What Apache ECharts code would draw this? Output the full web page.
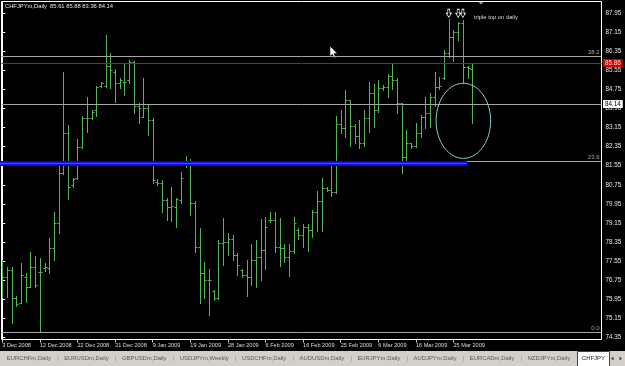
<!DOCTYPE html>
<html><head><meta charset="utf-8">
<script src="https://cdn.jsdelivr.net/npm/echarts@6/dist/echarts.min.js"></script>
<style>html,body{margin:0;padding:0;background:#000;overflow:hidden}#c{width:625px;height:366px}</style>
</head><body><div id="c"></div>
<script>
// ---- data (CHFJPYm, Daily) ----
const symbolName = 'CHFJPYm,Daily';
const dates = [
 '2008-12-03','2008-12-04','2008-12-05','2008-12-07','2008-12-08','2008-12-09','2008-12-10','2008-12-11','2008-12-12','2008-12-14',
 '2008-12-15','2008-12-16','2008-12-17','2008-12-18','2008-12-19','2008-12-21','2008-12-22','2008-12-23','2008-12-24','2008-12-25',
 '2008-12-26','2008-12-28','2008-12-29','2008-12-30','2008-12-31','2009-01-01','2009-01-02','2009-01-04','2009-01-05','2009-01-06',
 '2009-01-07','2009-01-08','2009-01-09','2009-01-11','2009-01-12','2009-01-13','2009-01-14','2009-01-15','2009-01-16','2009-01-18',
 '2009-01-19','2009-01-20','2009-01-21','2009-01-22','2009-01-23','2009-01-25','2009-01-26','2009-01-27','2009-01-28','2009-01-29',
 '2009-01-30','2009-02-01','2009-02-02','2009-02-03','2009-02-04','2009-02-05','2009-02-06','2009-02-08','2009-02-09','2009-02-10',
 '2009-02-11','2009-02-12','2009-02-13','2009-02-15','2009-02-16','2009-02-17','2009-02-18','2009-02-19','2009-02-20','2009-02-22',
 '2009-02-23','2009-02-24','2009-02-25','2009-02-26','2009-02-27','2009-03-01','2009-03-02','2009-03-03','2009-03-04','2009-03-05',
 '2009-03-06','2009-03-08','2009-03-09','2009-03-10','2009-03-11','2009-03-12','2009-03-13','2009-03-15','2009-03-16','2009-03-17',
 '2009-03-18','2009-03-19','2009-03-20','2009-03-22','2009-03-23','2009-03-24','2009-03-25','2009-03-26','2009-03-27','2009-03-29',
 '2009-03-30'];
const openP = [
 77.31,76.89,77.17,75.98,75.80,76.89,76.47,77.31,77.10,77.24,
 77.24,78.08,79.13,81.23,82.91,80.74,81.02,82.35,83.54,83.54,
 83.89,84.90,84.90,85.74,85.50,85.01,85.08,85.15,85.92,84.06,
 83.61,83.96,83.47,80.88,80.81,80.11,79.83,79.83,80.11,81.58,
 81.65,79.97,78.15,77.03,76.75,76.31,75.98,78.32,78.36,78.46,
 77.80,77.17,76.96,76.89,77.59,77.73,78.01,79.27,79.27,78.15,
 78.08,77.73,77.99,78.85,78.64,78.99,78.85,79.62,80.08,80.60,
 80.53,80.46,83.30,83.12,84.31,83.22,82.80,82.49,83.54,84.59,
 83.89,84.80,84.84,85.32,85.15,84.17,81.93,82.49,82.39,82.91,
 83.61,83.75,84.45,84.87,85.22,86.27,86.97,87.18,87.53,85.71,
 85.61];
const highP = [
 77.59,77.31,77.31,76.08,77.45,77.06,77.92,77.76,77.66,77.45,
 78.50,79.62,81.68,85.50,83.26,81.02,82.66,83.64,84.42,83.89,
 84.90,85.08,87.04,86.27,85.61,85.22,85.85,85.99,85.96,84.17,
 85.22,84.10,83.54,80.98,80.95,80.18,80.67,80.18,81.30,81.96,
 81.82,80.08,78.92,77.52,77.20,76.33,78.43,79.34,78.71,78.64,
 77.87,77.20,77.59,78.27,78.43,79.30,79.41,79.62,79.62,79.34,
 78.27,78.27,79.41,78.92,79.11,79.11,79.69,80.50,81.02,80.67,
 81.74,83.64,83.89,84.73,84.31,83.30,83.47,83.89,85.07,84.98,
 85.15,84.94,85.40,85.85,85.22,84.17,83.05,82.52,83.33,83.68,
 84.45,84.59,85.50,85.29,86.41,87.70,87.25,87.60,87.67,85.74,
 85.88];
const lowP = [
 76.05,76.05,74.96,75.66,75.77,75.84,76.45,76.47,74.59,77.15,
 77.03,77.59,78.71,81.20,80.14,80.64,80.99,82.28,82.98,83.50,
 83.64,84.84,84.84,84.80,84.21,84.80,84.52,85.04,83.75,83.33,
 83.58,82.84,80.81,80.74,79.62,79.27,79.25,78.97,79.97,81.51,
 79.48,77.92,75.80,75.98,75.28,75.91,75.96,77.38,77.80,77.59,
 76.96,76.89,76.08,76.54,76.45,76.75,77.20,79.20,77.92,77.34,
 77.52,76.92,77.87,78.46,78.15,77.99,78.57,78.83,78.83,80.50,
 80.28,80.42,82.91,82.77,82.38,82.52,82.31,82.38,82.98,83.19,
 83.82,84.73,84.42,84.76,83.75,81.26,81.76,82.28,82.35,82.77,
 83.12,83.19,84.06,84.76,85.18,86.13,85.96,86.83,85.04,85.22,
 83.36];
const closeP = [
 76.89,77.17,75.98,75.75,76.96,76.47,77.31,76.54,77.10,77.31,
 78.08,79.13,81.23,82.91,80.67,80.99,82.35,83.54,83.54,83.82,
 84.84,85.01,85.74,85.57,85.01,85.15,85.08,85.92,84.06,83.96,
 83.96,83.47,80.95,80.81,80.11,79.83,79.86,80.14,81.02,81.65,
 79.97,78.15,77.03,76.75,76.75,75.98,78.32,78.36,78.46,77.80,
 77.38,76.96,76.89,77.59,77.73,78.01,78.99,79.27,78.15,78.08,
 77.73,77.99,79.13,78.64,78.99,78.85,79.62,80.08,80.60,80.53,
 80.46,83.30,83.12,84.31,83.22,82.80,82.49,83.54,84.59,83.89,
 84.80,84.84,85.32,85.15,84.17,81.93,82.49,82.39,82.91,83.61,
 83.75,84.45,84.87,84.90,86.27,86.97,87.18,87.53,85.71,85.64,
 84.14];
const xTickIdx = [0,8,16,24,32,40,48,56,64,72,80,88,96];
const xTickLabels = ['3 Dec 2008','12 Dec 2008','22 Dec 2008','31 Dec 2008','9 Jan 2009','19 Jan 2009','28 Jan 2009','6 Feb 2009','16 Feb 2009','25 Feb 2009','6 Mar 2009','16 Mar 2009','25 Mar 2009'];
const yTicks = [74.35,75.15,75.95,76.75,77.55,78.35,79.15,79.95,80.75,81.55,82.35,83.15,83.95,84.75,85.55,86.35,87.15,87.95];
const fibLevels = [86.13, 81.72, 74.57];
const fibNames = ['38.2', '23.6', '0.0'];
const resistanceLevel = 85.86;
const bidLevel = 84.14;
const supportLevel = 81.64;
const supportSpan = [-1, 98.9];           // bar-index span of the blue trend line
const topArrowIdx = [95, 97, 98];          // bars marked as "triple top"
const topArrowPrice = 87.95;
const ellipseBox = [92.3, 85.01, 103.9, 81.86]; // [idxA, priceA, idxB, priceB]
const noteText = 'triple top on daily';
const tabNames = ['EURCHFm,Daily','EURUSDm,Daily','GBPUSDm,Daily','USDJPYm,Weekly','USDCHFm,Daily','AUDUSDm,Daily','EURJPYm,Daily','AUDJPYm,Daily','EURCADm,Daily','NZDJPYm,Daily'];

// ---- drawing ----
const BAR = '#56b456';
const FONT = 'Liberation Sans';
const chart = echarts.init(document.getElementById('c'), null, {renderer:'canvas', width:625, height:366});

function renderOHLC(params, api){
  const i = api.value(0);
  const pO = api.coord([i, api.value(1)]);
  const pH = api.coord([i, api.value(2)]);
  const pL = api.coord([i, api.value(3)]);
  const pC = api.coord([i, api.value(4)]);
  const x = Math.round(pH[0]) + 0.5;
  const yo = Math.round(pO[1]) + 0.5, yc = Math.round(pC[1]) + 0.5;
  const st = {stroke: BAR, lineWidth: 1};
  return {type:'group', children:[
    {type:'line', shape:{x1:x, y1:Math.round(pH[1]), x2:x, y2:Math.round(pL[1])+1}, style:st},
    {type:'line', shape:{x1:x-2, y1:yo, x2:x, y2:yo}, style:st},
    {type:'line', shape:{x1:x, y1:yc, x2:x+2, y2:yc}, style:st}
  ]};
}
function renderEllipse(params, api){
  const a = api.coord([api.value(0), api.value(1)]);
  const b = api.coord([api.value(2), api.value(3)]);
  const cx = (a[0]+b[0])/2, cy = (a[1]+b[1])/2;
  const rx = Math.abs(b[0]-a[0])/2, ry = Math.abs(b[1]-a[1])/2;
  const pts = [];
  for (let k = 0; k < 96; k++) { const t = k/96*Math.PI*2; pts.push([cx+rx*Math.cos(t), cy+ry*Math.sin(t)]); }
  return {type:'polygon', shape:{points:pts}, style:{fill:'none', stroke:'#8fd0d0', lineWidth:1}};
}

// tab bar layout
const meas = document.createElement('canvas').getContext('2d');
const TABFS = 5.9;
meas.font = TABFS + 'px "' + FONT + '"';
const tabEls = [{type:'rect', shape:{x:0, y:351, width:625, height:15}, style:{fill:'#d4d0c8'}, silent:true}];
let tx = 6.7;
tabNames.forEach((t) => {
  const w = meas.measureText(t).width;
  tabEls.push({type:'text', x:tx, y:358.5, style:{text:t, fill:'#55555f', fontSize:TABFS, fontFamily:FONT, verticalAlign:'middle'}, silent:true});
  const sx = tx + w + 6.3;
  tabEls.push({type:'text', x:sx, y:358.5, style:{text:'|', fill:'#8a8a8a', fontSize:TABFS, fontFamily:FONT, verticalAlign:'middle'}, silent:true});
  tx = sx + 7;
});
tabEls.push({type:'rect', shape:{x:577.5, y:351.5, width:32, height:15}, style:{fill:'#ffffff', stroke:'#404040', lineWidth:1}, silent:true});
tabEls.push({type:'text', x:582, y:358.5, style:{text:'CHFJPY', fill:'#202020', fontSize:TABFS, fontFamily:FONT, verticalAlign:'middle'}, silent:true});
tabEls.push({type:'polygon', shape:{points:[[611,358.5],[613.5,356.5],[613.5,360.5]]}, style:{fill:'#404040'}, silent:true});
tabEls.push({type:'polygon', shape:{points:[[622,358.5],[619.5,356.5],[619.5,360.5]]}, style:{fill:'#404040'}, silent:true});

const last = dates.length - 1;
const titleText = symbolName + '  ' + [openP[last], highP[last], lowP[last], closeP[last]].map(v=>v.toFixed(2)).join(' ');

const fibData = fibLevels.map((v, k) => ({
  yAxis: v,
  lineStyle:{color:'#a6a6a6', width:1, type:'solid'},
  label:{show:true, position:'insideEndTop', formatter:fibNames[k], color:'#a6a6a6', fontSize:6, fontFamily:FONT, distance:[2,1]}
}));

const option = {
  backgroundColor:'#000',
  animation:false,
  grid:{left:1.5, top:1.5, right:23.5, bottom:26.5, show:true, borderColor:'#ffffff', borderWidth:1, backgroundColor:'transparent', containLabel:false, outerBoundsMode:'none'},
  xAxis:{type:'value', min:-0.17, max:127.49,
    axisLine:{show:false}, splitLine:{show:false},
    axisTick:{show:true, customValues:xTickIdx, length:3, lineStyle:{color:'#d0d0d0'}},
    axisLabel:{customValues:xTickIdx, formatter:(v)=>xTickLabels[xTickIdx.indexOf(Math.round(v))], color:'#dcdcdc', fontSize:5.6, fontFamily:FONT, align:'left', margin:3, hideOverlap:false}},
  yAxis:{type:'value', position:'right', min:74.255, max:88.445, scale:true,
    axisLine:{show:true, lineStyle:{color:'#ffffff'}}, splitLine:{show:false},
    axisTick:{show:true, customValues:yTicks, length:3, lineStyle:{color:'#ffffff'}},
    axisLabel:{customValues:yTicks, formatter:(v)=>v.toFixed(2), color:'#e6e6e6', fontSize:6.3, fontFamily:FONT, margin:4, hideOverlap:false}},
  series:[
    {type:'line', data:[], silent:true, z:3,
      markLine:{symbol:'none', silent:true, animation:false, precision:2,
        data: fibData.concat([
          {yAxis: resistanceLevel, lineStyle:{color:'#b41414', width:1, type:'solid'},
            label:{show:true, position:'end', formatter:resistanceLevel.toFixed(2), color:'#ffdddd', backgroundColor:'#cc0000', padding:[1,2,1,2], distance:1.5, fontSize:6.3, fontFamily:FONT}},
          {yAxis: bidLevel, lineStyle:{color:'#a6a6a6', width:1, type:'solid'},
            label:{show:true, position:'end', formatter:bidLevel.toFixed(2), color:'#000', backgroundColor:'#ffffff', padding:[1,2,1,2], distance:1.5, fontSize:6.3, fontFamily:FONT}}
        ])}},
    {type:'custom', name:symbolName, renderItem:renderOHLC, clip:true, z:4,
      encode:{x:0, y:[1,2,3,4]},
      data: dates.map((d,i)=>[i, openP[i], highP[i], lowP[i], closeP[i]])},
    {type:'line', data:[[supportSpan[0], supportLevel],[supportSpan[1], supportLevel]], symbol:'none', clip:true, silent:true, z:5,
      lineStyle:{color:'#0000ee', width:5}},
    {type:'line', data:[[supportSpan[0], supportLevel],[supportSpan[1], supportLevel]], symbol:'none', clip:true, silent:true, z:6,
      lineStyle:{color:'#4848ff', width:1.5}},
    {type:'custom', renderItem:renderEllipse, clip:false, z:7, silent:true,
      encode:{x:[0,2], y:[1,3]}, data:[ellipseBox]},
    {type:'scatter', data: topArrowIdx.map(i=>[i, topArrowPrice]), silent:true, z:8,
      symbol:'path://M3,0L7,0L7,6L10,6L5,12L0,6L3,6Z', symbolSize:[5,8],
      itemStyle:{color:'#000', borderColor:'#ffffff', borderWidth:0.8, opacity:1}}
  ],
  graphic:[
    {type:'text', x:5, y:6, style:{text:titleText, fill:'#e8e8e8', fontSize:5.8, fontFamily:FONT, verticalAlign:'middle'}, silent:true},
    {type:'text', x:474, y:17, style:{text:noteText, fill:'#dcdcdc', fontSize:5.8, fontFamily:FONT, verticalAlign:'middle'}, silent:true},
    {type:'polygon', shape:{points:[[478.5,2],[483.5,2],[481,4.8]]}, style:{fill:'#909090'}, silent:true},
    {type:'polygon', shape:{points:[[330,46],[330,56.5],[332.4,54.2],[334.2,58],[335.7,57.3],[334,53.6],[337.3,53.6]]}, style:{fill:'#ffffff', stroke:'#000', lineWidth:0.6}, silent:true}
  ].concat(tabEls)
};
chart.setOption(option);
</script>
</body></html>
